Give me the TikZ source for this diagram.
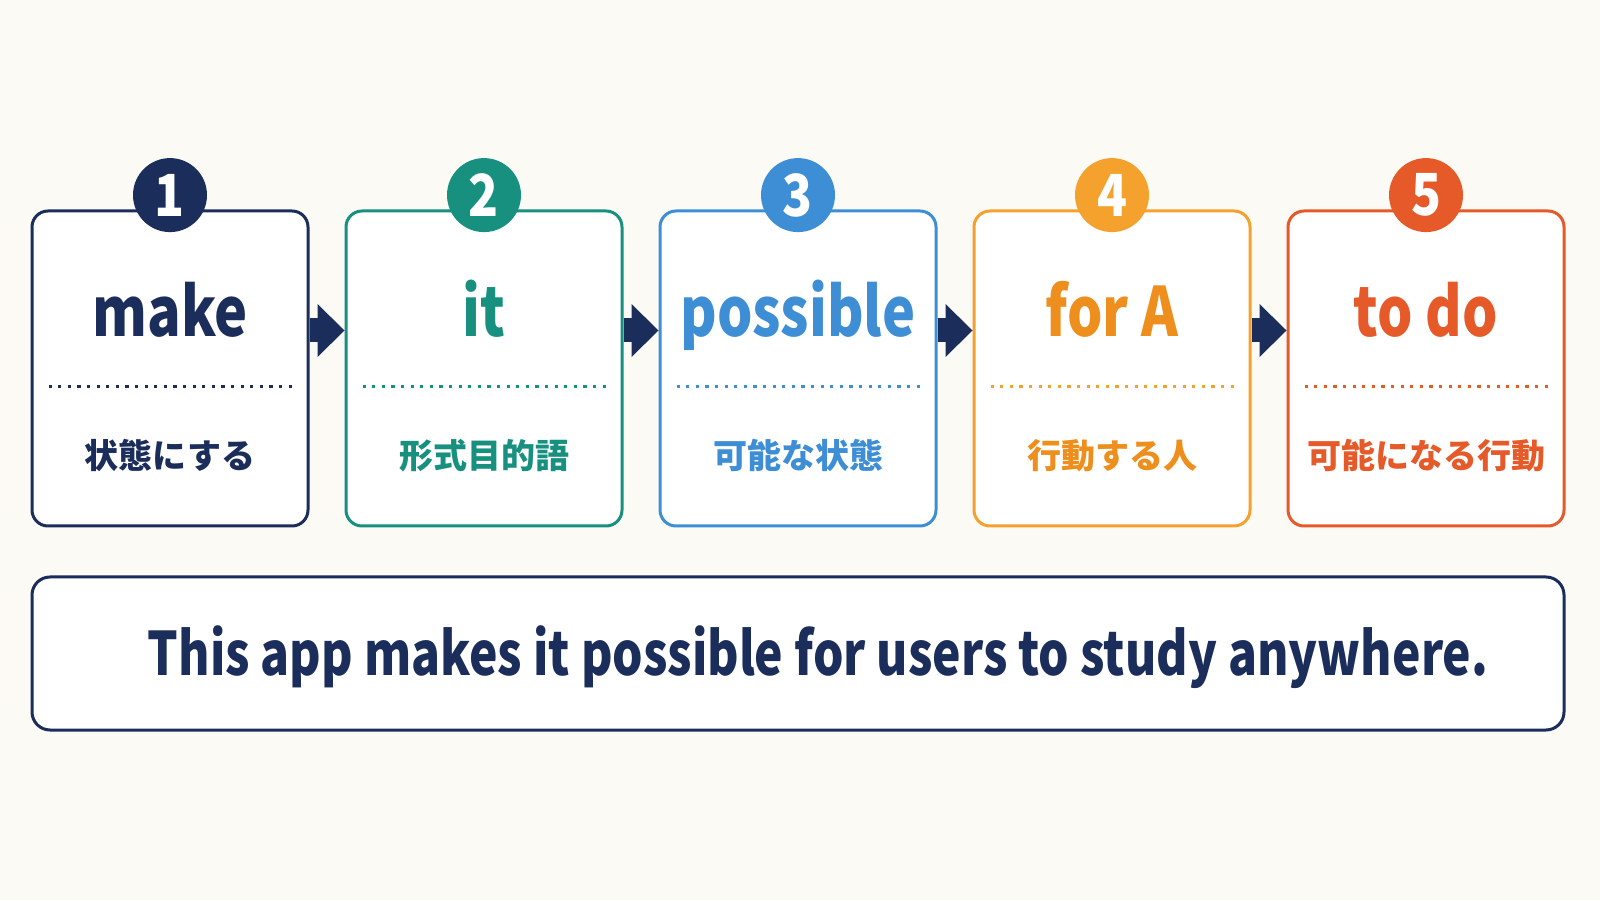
\documentclass[tikz,border=0pt]{standalone}
\usepackage{fontspec}
\usepackage{xcolor}
\usepackage{tikz}
\usetikzlibrary{arrows.meta,positioning}

\setmainfont{Noto Sans CJK JP}
\newfontfamily\wordfont[FakeStretch=0.82]{Noto Sans CJK JP}
\newfontfamily\digitfont[FakeStretch=0.85]{Noto Sans CJK JP}
\newfontfamily\sentfont[FakeStretch=0.8]{Noto Sans CJK JP}

\definecolor{cBg}{HTML}{FBFAF5}
\definecolor{cNavy}{HTML}{1B2D5B}
\definecolor{cTeal}{HTML}{17907F}
\definecolor{cBlue}{HTML}{3E8ED6}
\definecolor{cAmber}{HTML}{F4A22D}
\definecolor{cAmberTxt}{HTML}{EE8E1C}
\definecolor{cRed}{HTML}{E65A2A}

\begin{document}
\begin{tikzpicture}[
        card/.style={rectangle, draw, fill=white, rounded corners=8pt, minimum width=138pt, minimum height=157.5pt, line width=1.5pt, inner sep=0pt},
        badge/.style={circle, minimum size=37pt, inner sep=0pt, text=white, font=\digitfont\bfseries\fontsize{29}{29}\selectfont},
        word/.style={anchor=base, inner sep=0pt, font=\wordfont\bfseries\fontsize{34}{34}\selectfont},
        gloss/.style={inner sep=0pt, font=\bfseries\fontsize{17}{17}\selectfont},
        sep/.style={line width=1.6pt, dash pattern=on 1.6pt off 3.2pt},
        summary/.style={rectangle, draw=cNavy, fill=white, rounded corners=9pt, minimum width=766pt, minimum height=76.5pt, line width=1.5pt, inner sep=0pt},
        flow/.style={draw=cNavy, line width=12pt, -{Triangle[length=13.5pt 0 0, width=26.5pt 0 0, line width=0pt]}}
    ]

    % Background
    \fill [cBg] (0,0) rectangle (800pt,450pt);
    \useasboundingbox (0,0) rectangle (800pt,450pt);

    % Step cards
    \node [card, draw=cNavy] (make) at (85pt,265.75pt) {};
    \node [card, draw=cTeal, right=17.5pt of make] (it) {};
    \node [card, draw=cBlue, right=17.5pt of it] (poss) {};
    \node [card, draw=cAmber, right=17.5pt of poss] (forA) {};
    \node [card, draw=cRed, right=17.5pt of forA] (todo) {};

    % Number badges
    \node [badge, fill=cNavy, above=-11.5pt of make] (n1) {1};
    \node [badge, fill=cTeal, above=-11.5pt of it] (n2) {2};
    \node [badge, fill=cBlue, above=-11.5pt of poss] (n3) {3};
    \node [badge, fill=cAmber, above=-11.5pt of forA] (n4) {4};
    \node [badge, fill=cRed, above=-11.5pt of todo] (n5) {5};

    % Key words
    \node [word, text=cNavy] (w1) at ([yshift=-63.5pt]make.north) {make};
    \node [word, text=cTeal] (w2) at ([yshift=-63.5pt]it.north) {it};
    \node [word, text=cBlue] (w3) at ([yshift=-63.5pt]poss.north) {possible};
    \node [word, text=cAmberTxt] (w4) at ([yshift=-63.5pt]forA.north) {for A};
    \node [word, text=cRed] (w5) at ([yshift=-63.5pt]todo.north) {to do};

    % Dotted separators
    \draw [sep, cNavy] ([xshift=9pt,yshift=-88.5pt]make.north west) -- ([xshift=-9pt,yshift=-88.5pt]make.north east);
    \draw [sep, cTeal] ([xshift=9pt,yshift=-88.5pt]it.north west) -- ([xshift=-9pt,yshift=-88.5pt]it.north east);
    \draw [sep, cBlue] ([xshift=9pt,yshift=-88.5pt]poss.north west) -- ([xshift=-9pt,yshift=-88.5pt]poss.north east);
    \draw [sep, cAmber] ([xshift=9pt,yshift=-88.5pt]forA.north west) -- ([xshift=-9pt,yshift=-88.5pt]forA.north east);
    \draw [sep, cRed] ([xshift=9pt,yshift=-88.5pt]todo.north west) -- ([xshift=-9pt,yshift=-88.5pt]todo.north east);

    % Japanese meanings
    \node [gloss, text=cNavy] (g1) at ([yshift=-123pt]make.north) {状態にする};
    \node [gloss, text=cTeal] (g2) at ([yshift=-123pt]it.north) {形式目的語};
    \node [gloss, text=cBlue] (g3) at ([yshift=-123pt]poss.north) {可能な状態};
    \node [gloss, text=cAmberTxt] (g4) at ([yshift=-123pt]forA.north) {行動する人};
    \node [gloss, text=cRed] (g5) at ([yshift=-123pt]todo.north) {可能になる行動};

    % Connections between steps
    \path [flow] ([yshift=19pt]make.east) -- ([yshift=19pt]it.west);
    \path [flow] ([yshift=19pt]it.east) -- ([yshift=19pt]poss.west);
    \path [flow] ([yshift=19pt]poss.east) -- ([yshift=19pt]forA.west);
    \path [flow] ([yshift=19pt]forA.east) -- ([yshift=19pt]todo.west);

    % Example sentence
    \node [summary, below=24pt of poss] (sent) {};
    \node [anchor=base, inner sep=0pt, text=cNavy, font=\sentfont\bfseries\fontsize{30}{30}\selectfont] (sentText) at ([xshift=10pt,yshift=-11pt]sent.center) {This app makes it possible for users to study anywhere.};

\end{tikzpicture}
\end{document}
